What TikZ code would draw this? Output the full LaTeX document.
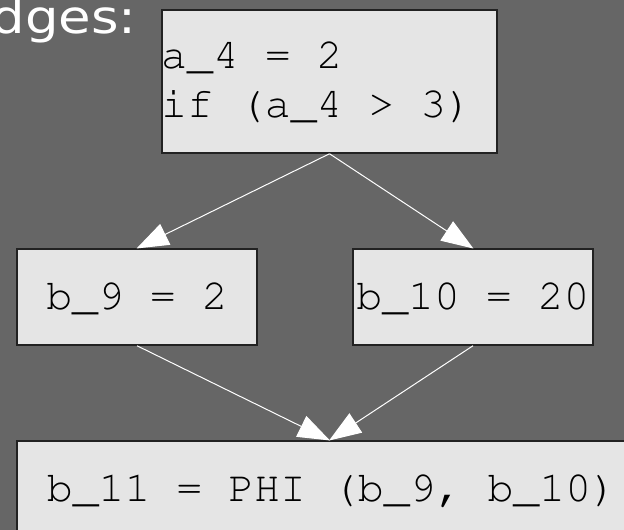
\documentclass[tikz,border=0pt]{standalone}
\usepackage[T1]{fontenc}
\usepackage{fontspec}
\usetikzlibrary{arrows.meta}
\newfontfamily\headfont[FakeStretch=1.15]{DejaVu Sans}
\newcommand\codefont{\fontencoding{T1}\fontfamily{pcr}\fontsize{43.2}{48}\selectfont}
\definecolor{slidebg}{HTML}{666666}
\definecolor{boxfill}{HTML}{E5E5E5}
\definecolor{boxline}{HTML}{222222}
\tikzset{
  cfgbox/.style={draw=boxline, fill=boxfill, line width=1.5pt, inner sep=0pt,
    minimum height=96pt, text height=30pt, text depth=6pt, font=\codefont},
  codeline/.style={inner sep=0pt, anchor=base west, font=\codefont},
  flow/.style={draw=white, line width=1pt,
    -{Triangle[length=32pt, width=23pt, fill=white]}, shorten >=-0.5pt}
}
\begin{document}
\begin{tikzpicture}[x=1pt, y=-1pt]
  \useasboundingbox (0,0) rectangle (624,530);
  \clip (0,0) rectangle (624,530);
  \fill[slidebg] (0,0) rectangle (624,530);

  % slide heading, cut at the left edge
  \node (head) [inner sep=0pt, anchor=base east, text=white,
    font=\headfont\fontsize{46}{52}\selectfont] at (137,34) {dges:};

  % basic blocks
  \node (top) [cfgbox, minimum width=335pt, minimum height=143pt] at (329.5,81.5) {};
  \node (topA) [codeline] at (161,68) {a\_4 = 2};
  \node (topB) [codeline] at (161,117) {if (a\_4 > 3)};

  \node (left) [cfgbox, minimum width=240pt] at (137,297) {b\_9 = 2};
  \node (right) [cfgbox, minimum width=240pt] at (473,297) {b\_10 = 20};
  \node (join) [cfgbox, minimum width=630pt] at (332,489) {b\_11 = PHI (b\_9, b\_10)};

  % control-flow edges
  \draw[flow] (top.south) -- (left.north);
  \draw[flow] (top.south) -- (right.north);
  \draw[flow] (left.south) -- (join.north -| top.south);
  \draw[flow] (right.south) -- (join.north -| top.south);
\end{tikzpicture}
\end{document}
